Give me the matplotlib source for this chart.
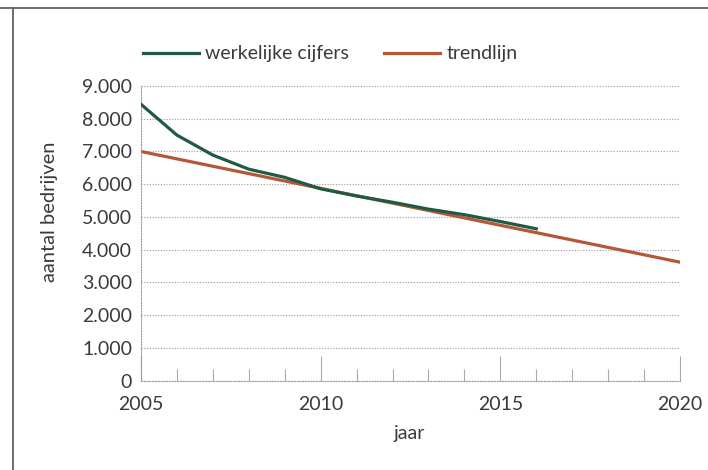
import matplotlib
matplotlib.use('Agg')
import matplotlib.pyplot as plt
import matplotlib.ticker as mticker
from matplotlib.lines import Line2D

plt.rcParams['font.family'] = ['Lato', 'DejaVu Sans']

# Data
jaren = [2005, 2006, 2007, 2008, 2009, 2010, 2011, 2012, 2013, 2014, 2015, 2016]
werkelijk = [8440, 7500, 6890, 6460, 6210, 5860, 5640, 5450, 5240, 5070, 4860, 4640]
trend_jaren = [2005, 2020]
trend_waarden = [7000, 3620]

groen = '#1f5a43'
roest = '#b5583a'
tekst = '#3a3a3a'
raster = '#9a9a9a'

fig = plt.figure(figsize=(7.08, 4.70), dpi=100)
ax = fig.add_axes([141 / 708, 1 - 380.7 / 470, (680 - 141) / 708, (380.7 - 86) / 470])

ax.plot(jaren, werkelijk, color=groen, linewidth=2.3, label='werkelijke cijfers', zorder=3)
ax.plot(trend_jaren, trend_waarden, color=roest, linewidth=2.3, label='trendlijn', zorder=2)

ax.set_xlim(2005, 2020)
ax.set_ylim(0, 9000)
ax.set_yticks(range(0, 9001, 1000))
ax.yaxis.set_major_formatter(mticker.FuncFormatter(lambda v, p: f"{int(v):,}".replace(",", ".")))
ax.set_xticks([2005, 2010, 2015, 2020])
ax.set_xticks(range(2006, 2020), minor=True)

# dotted grid and spines
ax.yaxis.grid(True, linestyle=(0, (1, 1.5)), color=raster, linewidth=0.8)
ax.set_axisbelow(True)
for side in ['top', 'right']:
    ax.spines[side].set_visible(False)
for side in ['left', 'bottom']:
    ax.spines[side].set_linestyle((0, (1, 1.5)))
    ax.spines[side].set_color(raster)
    ax.spines[side].set_linewidth(0.8)

ax.tick_params(axis='y', length=0, pad=6.5, labelsize=14, labelcolor=tekst)
ax.tick_params(axis='x', which='major', direction='in', length=18, width=0.8,
               color='#aaaaaa', pad=11, labelsize=14, labelcolor=tekst)
ax.tick_params(axis='x', which='minor', direction='in', length=8.5, width=0.8, color='#aaaaaa')

fig.text(409 / 708, 1 - 433 / 470, 'jaar', ha='center', va='center',
         fontsize=14, color=tekst)
fig.text(49 / 708, 1 - 212 / 470, 'aantal bedrijven', ha='center', va='center',
         rotation=90, fontsize=14.5, color=tekst)

leg = fig.legend(loc='center left', bbox_to_anchor=(143 / 708, 1 - 54 / 470), ncol=2,
                 frameon=False, fontsize=14, handlelength=2.9, handletextpad=0.3,
                 columnspacing=1.8, borderpad=0, borderaxespad=0)
for t in leg.get_texts():
    t.set_color(tekst)

# frame lines at the top and left of the picture
fig.add_artist(Line2D([0, 1], [1 - 7.5 / 470, 1 - 7.5 / 470], color='#555555', linewidth=1.2))
fig.add_artist(Line2D([12.5 / 708, 12.5 / 708], [0, 1 - 7.5 / 470], color='#555555', linewidth=1.2))

fig.savefig('out.png', dpi=100)
